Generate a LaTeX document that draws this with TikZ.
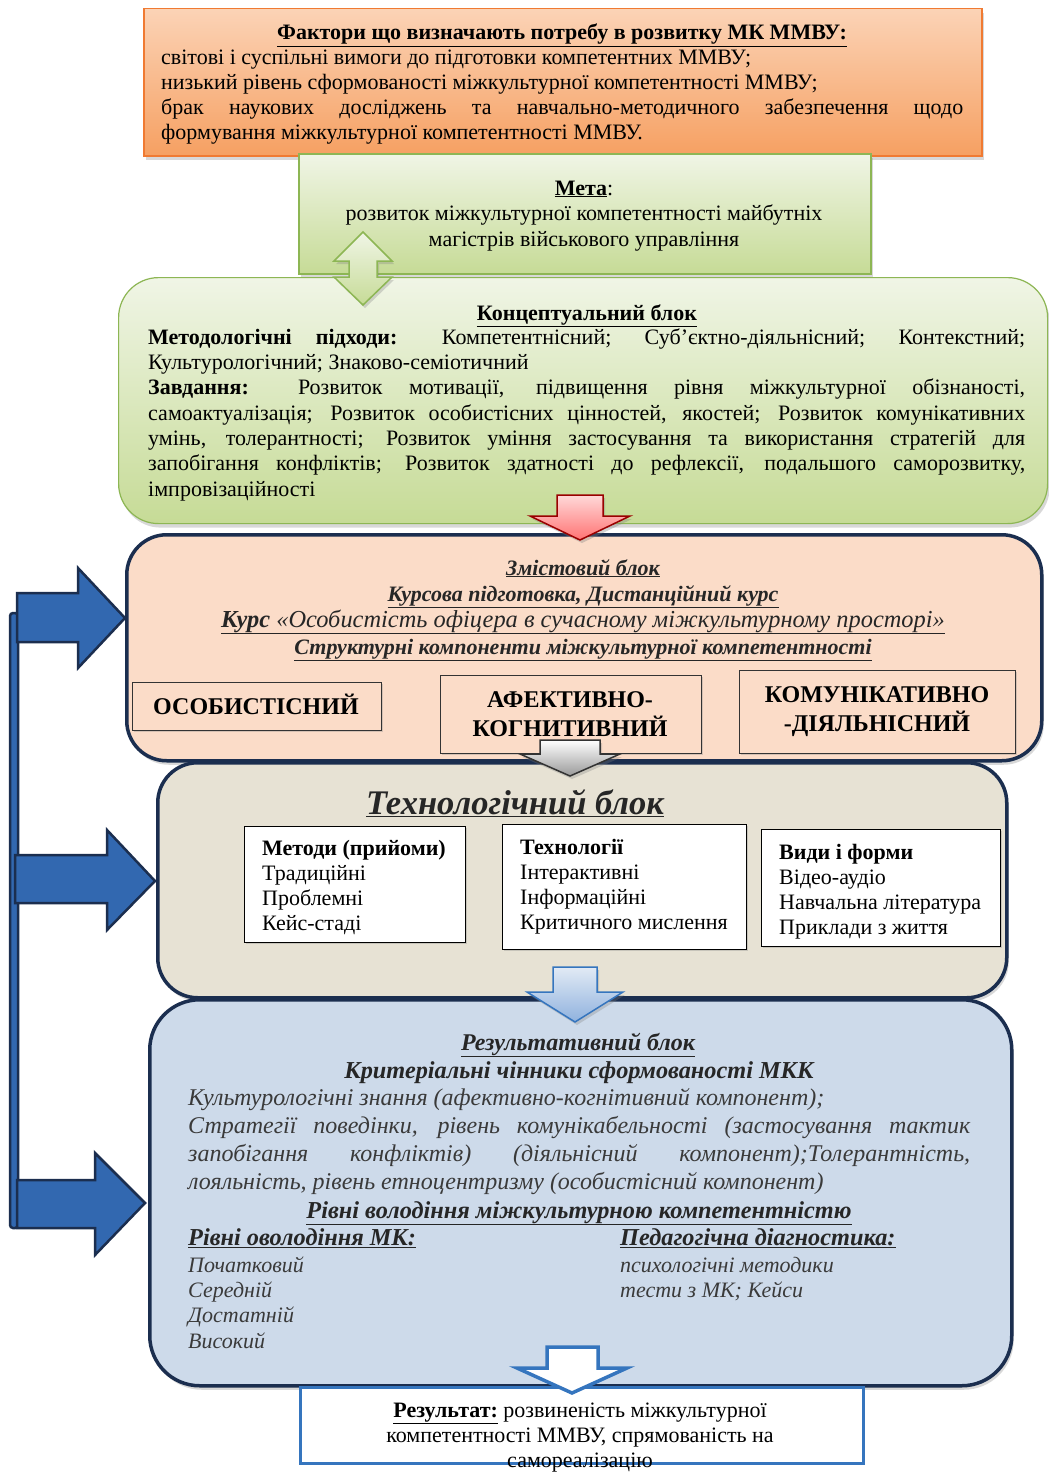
\documentclass[tikz,border=0pt]{standalone}
\usepackage{fontspec}
\setmainfont{Liberation Serif}
\usetikzlibrary{shadows}
\setlength{\parindent}{0pt}
\hyphenpenalty=10000
\exhyphenpenalty=10000
\definecolor{navy}{HTML}{1B2E4F}
\definecolor{facTop}{HTML}{FBD3B6}
\definecolor{facBot}{HTML}{F6A062}
\definecolor{facLine}{HTML}{F07A32}
\definecolor{grTop}{HTML}{F0F5E6}
\definecolor{grBot}{HTML}{C6DB96}
\definecolor{grLine}{HTML}{8DB654}
\definecolor{peach}{HTML}{FBDCC8}
\definecolor{beige}{HTML}{E7E2D4}
\definecolor{pale}{HTML}{CDDAEA}
\definecolor{arrBlue}{HTML}{3268B0}
\definecolor{resLine}{HTML}{3575BE}
\definecolor{txtGrey}{HTML}{3A3A3A}
\definecolor{ltBlueTop}{HTML}{E2EAF5}
\definecolor{ltBlueBot}{HTML}{8FB2DE}
\begin{document}
\begin{tikzpicture}[x=1pt,y=-1pt,
  shade/.style={drop shadow={opacity=0.3,shadow xshift=2pt,shadow yshift=-4pt}},
  factbox/.style={draw=facLine,line width=1.5pt,top color=facTop,bottom color=facBot,shade,anchor=north west,inner sep=0pt},
  greenbox/.style={draw=grLine,line width=1.5pt,top color=grTop,bottom color=grBot,shade,anchor=north west,inner sep=0pt},
  bigblock/.style={draw=navy,line width=3.5pt,rounded corners=40pt,anchor=north west,inner sep=0pt,shade},
  compbox/.style={draw=black!80,line width=1pt,fill=peach,anchor=north west,inner sep=0pt,drop shadow={opacity=0.3,shadow xshift=1.5pt,shadow yshift=-1.5pt}},
  whitebox/.style={draw=black,line width=1pt,fill=white,anchor=north west,inner sep=0pt,drop shadow={opacity=0.3,shadow xshift=1.5pt,shadow yshift=-1.5pt}},
  lbl/.style={anchor=base,inner sep=0pt},
  lbll/.style={anchor=base west,inner sep=0pt},
  para/.style={anchor=north west,inner sep=0pt,align=justify,text width=#1},
  sidearrow/.style={draw=navy,line width=2.5pt,fill=arrBlue,line join=miter},
  f22/.style={font=\fontsize{22}{25}\selectfont},
  f24/.style={font=\fontsize{24}{28}\selectfont}]
\useasboundingbox[fill=white] (0,0) rectangle (1049,1472);

% ---------- top factor box
\node[factbox,minimum width=838pt,minimum height=147pt] (fac) at (143,8) {};
\node[lbl,f22,font=\bfseries\fontsize{22}{25}\selectfont] (facT) at (562,40) {\underline{Фактори що визначають потребу в розвитку МК ММВУ:}};
\node[para=802pt,f22] (facP) at (161,46.5) {\strut світові і суспільні вимоги до підготовки компетентних ММВУ;\\
низький рівень сформованості міжкультурної компетентності ММВУ;\\
брак наукових досліджень та навчально-методичного забезпечення щодо\linebreak
формування міжкультурної компетентності ММВУ.};

% ---------- aim box
\node[greenbox,minimum width=572pt,minimum height=120pt] (aim) at (298,153) {};
\node[lbl,f22] (aimT) at (584,195) {\underline{\textbf{Мета}}:};
\node[lbl,f22] (aim1) at (584,220) {розвиток міжкультурної компетентності майбутніх};
\node[lbl,f22] (aim2) at (584,246) {магістрів військового управління};

% ---------- conceptual block
\node[greenbox,rounded corners=40pt,line width=1.2pt,minimum width=929pt,minimum height=246pt] (conc) at (118,277) {};
\node[lbl,font=\bfseries\fontsize{22}{25}\selectfont] (concT) at (587,320) {\underline{Концептуальний блок}};
\node[para=877pt,font=\fontsize{22}{25.3}\selectfont] (concP) at (148,326.3) {\strut\textbf{Методологічні підходи:} Компетентнісний; Суб’єктно-діяльнісний; Контекстний;\linebreak
Культурологічний; Знаково-семіотичний\\
\textbf{Завдання:} Розвиток мотивації, підвищення рівня міжкультурної обізнаності,\linebreak
самоактуалізація; Розвиток особистісних цінностей, якостей; Розвиток комунікативних\linebreak
умінь, толерантності; Розвиток уміння застосування та використання стратегій для\linebreak
запобігання конфліктів; Розвиток здатності до рефлексії, подальшого саморозвитку,\linebreak
імпровізаційності};

% double arrow aim <-> conceptual
\draw[draw=grLine,line width=1.5pt,top color=grTop,bottom color=grBot,drop shadow={opacity=0.3,shadow xshift=2pt,shadow yshift=-3pt}]
  (363,232) -- (392,261) -- (377,261) -- (377,277) -- (392,277) -- (363,305) -- (334,277) -- (349,277) -- (349,261) -- (334,261) -- cycle;

% ---------- content block
\node[bigblock,fill=peach,minimum width=915pt,minimum height=226pt] (cont) at (125,533) {};
\node[lbl,text=black!85,font=\bfseries\itshape\fontsize{22}{25}\selectfont] (contT) at (583,575) {\underline{Змістовий блок}};
\node[lbl,text=black!85,font=\bfseries\itshape\fontsize{22}{25}\selectfont] (cont1) at (583,601) {\underline{Курсова підготовка, Дистанційний курс}};
\node[lbl,text=black!85,font=\itshape\fontsize{24.4}{27}\selectfont] (cont2) at (583,627) {\underline{\textbf{Курс} «Особистість офіцера в сучасному міжкультурному просторі»}};
\node[lbl,text=black!85,font=\bfseries\itshape\fontsize{22}{25}\selectfont] (cont3) at (583,654) {\underline{Структурні компоненти міжкультурної компетентності}};

\node[compbox,minimum width=249pt,minimum height=48pt] (osob) at (132,682) {};
\node[lbl,font=\bfseries\fontsize{24}{28}\selectfont] (osobT) at (256,714) {ОСОБИСТІСНИЙ};
\node[compbox,minimum width=261pt,minimum height=78pt] (afek) at (440,675) {};
\node[lbl,font=\bfseries\fontsize{24}{28}\selectfont] (afek1) at (570,707) {АФЕКТИВНО-};
\node[lbl,font=\bfseries\fontsize{24}{28}\selectfont] (afek2) at (570,736) {КОГНИТИВНИЙ};
\node[compbox,minimum width=276pt,minimum height=83pt] (komu) at (739,670) {};
\node[lbl,font=\bfseries\fontsize{24}{28}\selectfont] (komu1) at (877,702) {КОМУНІКАТИВНО};
\node[lbl,font=\bfseries\fontsize{24}{28}\selectfont] (komu2) at (877,731) {-ДІЯЛЬНІСНИЙ};

% ---------- technology block
\node[bigblock,fill=beige,minimum width=849pt,minimum height=235pt] (tech) at (156,761) {};
\node[lbl,text=black!85,font=\bfseries\itshape\fontsize{34.5}{38}\selectfont] (techT) at (515,814) {\underline{Технологічний блок}};

\node[whitebox,minimum width=221pt,minimum height=116pt] (meth) at (244,826) {};
\node[para=210pt,f22] (methP) at (262,837.5) {\strut\textbf{Методи (прийоми)}\\Традиційні\\Проблемні\\Кейс-стаді};
\node[whitebox,minimum width=244pt,minimum height=125pt] (tecn) at (502,824) {};
\node[para=230pt,f22] (tecnP) at (520,836.5) {\strut\textbf{Технології}\\Інтерактивні\\Інформаційні\\Критичного мислення};
\node[whitebox,minimum width=239pt,minimum height=117pt] (form) at (761,829) {};
\node[para=225pt,f22] (formP) at (779,841.5) {\strut\textbf{Види і форми}\\Відео-аудіо\\Навчальна література\\Приклади з життя};

% ---------- result block
\node[bigblock,fill=pale,rounded corners=50pt,minimum width=862pt,minimum height=386pt] (res) at (148,998) {};
\node[lbl,text=black!85,font=\bfseries\itshape\fontsize{24}{28}\selectfont] (resT) at (578,1050) {\underline{Результативний блок}};
\node[lbl,text=black!85,font=\bfseries\itshape\fontsize{24.3}{28}\selectfont] (res1) at (579,1078) {Критеріальні чінники сформованості МКК};
\node[para=782pt,text=txtGrey,font=\itshape\fontsize{24}{28}\selectfont] (resP) at (188,1085.4) {\strut Культурологічні знання (афективно-когнітивний компонент);\\
Стратегії поведінки, рівень комунікабельності (застосування тактик\linebreak
запобігання конфліктів) (діяльнісний компонент);Толерантність,\linebreak
лояльність, рівень етноцентризму (особистісний компонент)};
\node[lbl,text=black!85,font=\bfseries\itshape\fontsize{24.3}{28}\selectfont] (res2) at (579,1218) {\underline{Рівні володіння міжкультурною компетентністю}};
\node[lbll,text=black!85,font=\bfseries\itshape\fontsize{24.3}{28}\selectfont] (lvT) at (188,1245) {\underline{Рівні оволодіння МК:}};
\node[para=300pt,text=txtGrey,font=\itshape\fontsize{22}{25.3}\selectfont] (lvP) at (188,1254.3) {\strut Початковий\\Середній\\Достатній\\Високий};
\node[lbll,text=black!85,font=\bfseries\itshape\fontsize{24.3}{28}\selectfont] (dgT) at (620,1245) {\underline{Педагогічна діагностика:}};
\node[para=350pt,text=txtGrey,font=\itshape\fontsize{22}{25.3}\selectfont] (dgP) at (620,1254.3) {\strut психологічні методики\\тести з МК; Кейси};

% ---------- final result box
\node[draw=resLine,line width=3pt,fill=white,anchor=north west,inner sep=0pt,minimum width=563pt,minimum height=76pt] (fin) at (299,1386) {};
\node[lbl,f22] (fin1) at (580,1417) {\underline{\textbf{Результат:}} розвиненість міжкультурної};
\node[lbl,f22] (fin2) at (580,1442) {компетентності ММВУ, спрямованість на};
\node[lbl,f22] (fin3) at (580,1467) {самореалізацію};

% ---------- down arrows between blocks
\draw[draw=red!60!black,line width=1.5pt,top color=red!15,bottom color=red!55,drop shadow={opacity=0.35,shadow xshift=2pt,shadow yshift=-3pt}]
  (557,495) -- (603,495) -- (603,516) -- (630,516) -- (580,540) -- (530,516) -- (557,516) -- cycle;
\draw[draw=black!80,line width=1.5pt,top color=white,bottom color=black!40,drop shadow={opacity=0.3,shadow xshift=2pt,shadow yshift=-3pt}]
  (540,740) -- (600,740) -- (600,754) -- (620,754) -- (570,776) -- (520,754) -- (540,754) -- cycle;
\draw[draw=resLine,line width=1.5pt,top color=ltBlueTop,bottom color=ltBlueBot,drop shadow={opacity=0.3,shadow xshift=2pt,shadow yshift=-3pt}]
  (553,967) -- (597,967) -- (597,992) -- (623,992) -- (575,1022) -- (527,992) -- (553,992) -- cycle;
\draw[draw=resLine,line width=3.5pt,fill=white,line join=miter]
  (547,1347) -- (598,1347) -- (598,1368) -- (627,1368) -- (572,1393) -- (517,1368) -- (547,1368) -- cycle;

% ---------- feedback arrows on the left
\draw[sidearrow,rounded corners=3pt] (10,613) rectangle (18,1228);
\draw[sidearrow] (17,593) -- (78,593) -- (78,568) -- (125,618) -- (78,668) -- (78,642) -- (17,642) -- cycle;
\draw[sidearrow] (15,855) -- (107,855) -- (107,830) -- (155,881) -- (107,930) -- (107,903) -- (15,903) -- cycle;
\draw[sidearrow] (17,1180) -- (95,1180) -- (95,1153) -- (145,1203) -- (95,1255) -- (95,1228) -- (17,1228) -- cycle;
\end{tikzpicture}
\end{document}
